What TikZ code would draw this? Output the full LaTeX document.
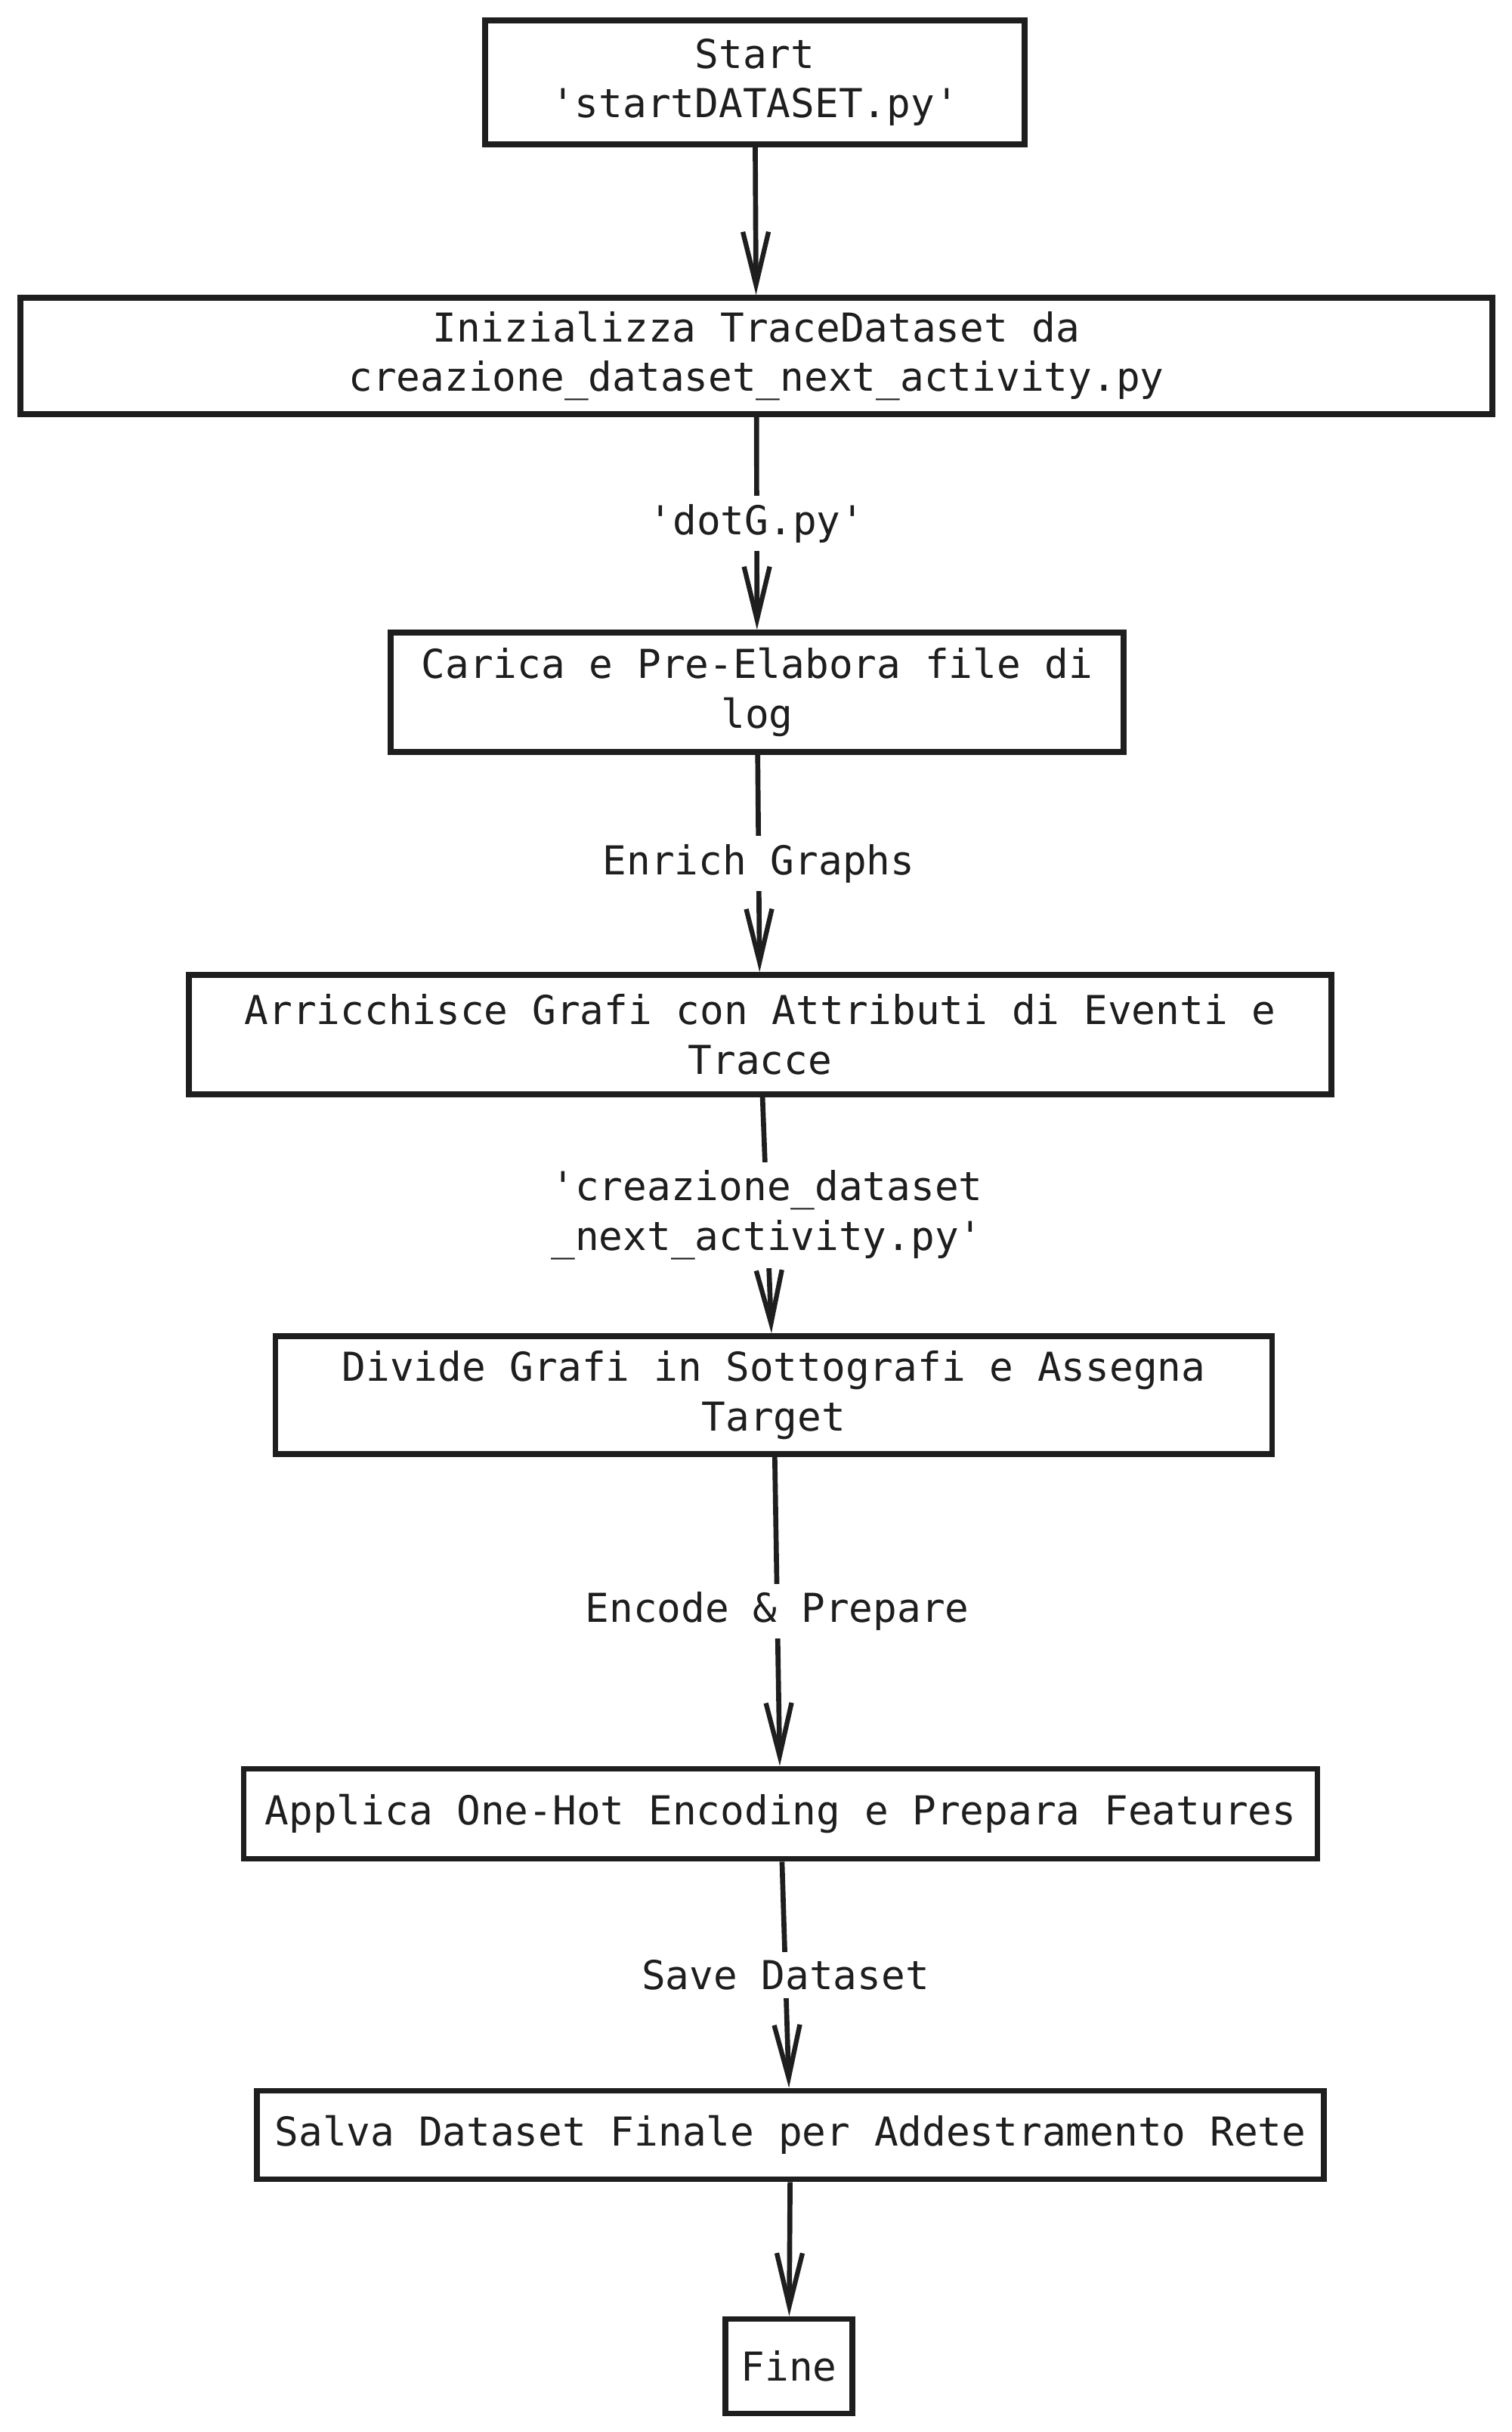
\documentclass[tikz,border=0pt]{standalone}
\usepackage{fontspec}
\setmonofont{DejaVu Sans Mono}
\usepackage{tikz}
\usetikzlibrary{arrows.meta,positioning}
\usepackage{xcolor}
\definecolor{ink}{HTML}{1E1E1E}
\tikzset{
  procbox/.style={rectangle,draw=ink,fill=white,text=ink,line width=2.2pt,
    inner sep=0pt,align=center,font=\fontsize{15}{18.7}\selectfont\ttfamily},
  flow/.style={-{Straight Barb[length=0.7cm,width=0.34cm,line width=1.8pt]},line width=1.9pt,color=ink},
  elabel/.style={fill=white,text=ink,inner sep=3pt,align=center,
    font=\fontsize{15}{18.7}\selectfont\ttfamily},
}
\begin{document}
\begin{tikzpicture}
  \useasboundingbox (0,0) rectangle (20,-32.18);

  \node[procbox,minimum width=7.14cm,minimum height=1.64cm] (start) at (9.99,-1.09)
    {Start\\'startDATASET.py'};
  \node[procbox,minimum width=19.48cm,minimum height=1.54cm] (init) at (10.01,-4.71)
    {Inizializza TraceDataset da\\creazione\_dataset\_next\_activity.py};
  \node[procbox,minimum width=9.70cm,minimum height=1.58cm] (load) at (10.02,-9.16)
    {Carica e Pre-Elabora file di\\log};
  \node[procbox,minimum width=15.12cm,minimum height=1.58cm] (enrich) at (10.06,-13.69)
    {Arricchisce Grafi con Attributi di Eventi e\\Tracce};
  \node[procbox,minimum width=13.19cm,minimum height=1.56cm] (split) at (10.24,-18.46)
    {Divide Grafi in Sottografi e Assegna\\Target};
  \node[procbox,minimum width=14.21cm,minimum height=1.19cm] (encode) at (10.33,-24.00)
    {Applica One-Hot Encoding e Prepara Features};
  \node[procbox,minimum width=14.12cm,minimum height=1.17cm] (save) at (10.46,-28.25)
    {Salva Dataset Finale per Addestramento Rete};
  \node[procbox,minimum width=1.68cm,minimum height=1.25cm] (fine) at (10.44,-31.31)
    {Fine};

  \draw[flow] (start) -- (init);
  \draw[flow] (init)   -- node[elabel]{'dotG.py'} (load);
  \draw[flow] (load)   -- node[elabel]{Enrich Graphs} (enrich);
  \draw[flow] (enrich) -- node[elabel]{'creazione\_dataset\\\_next\_activity.py'} (split);
  \draw[flow] (split)  -- node[elabel]{Encode \& Prepare} (encode);
  \draw[flow] (encode) -- node[elabel]{Save Dataset} (save);
  \draw[flow] (save)   -- (fine);
\end{tikzpicture}
\end{document}
